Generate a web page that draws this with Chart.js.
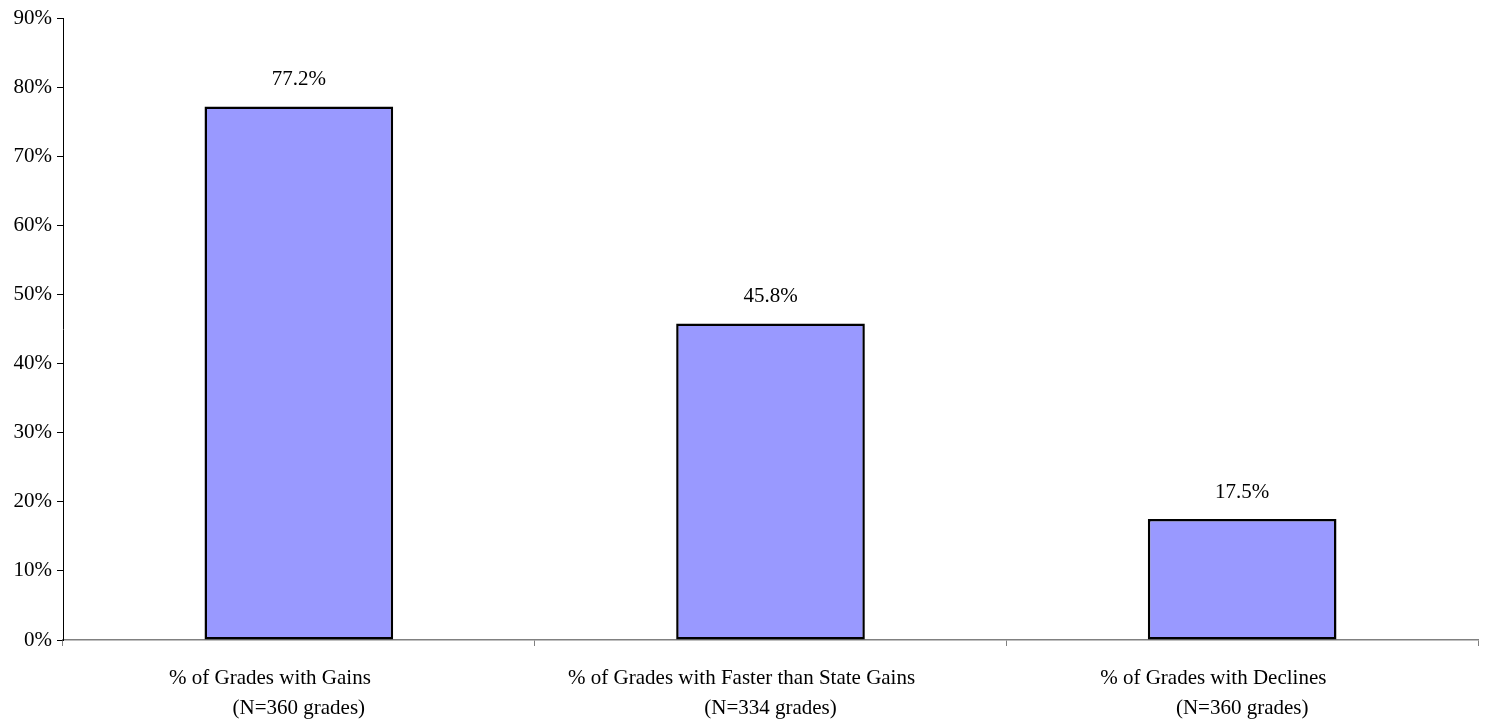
<!DOCTYPE html>
<html>
<head>
<meta charset="utf-8">
<script src="https://cdn.jsdelivr.net/npm/chart.js@4.4.1/dist/chart.umd.min.js"></script>
<style>
html,body{margin:0;padding:0;background:#fff;}
#wrap{width:1487px;height:719px;position:relative;}
</style>
</head>
<body>
<div id="wrap"><canvas id="c" width="1487" height="719"></canvas></div>
<script>
const categoryLines = [
  ["% of Grades with Gains", "(N=360 grades)"],
  ["% of Grades with Faster than State Gains", "(N=334 grades)"],
  ["% of Grades with Declines", "(N=360 grades)"]
];
const values = [77.2, 45.8, 17.5];
const valueLabels = ["77.2%", "45.8%", "17.5%"];
const yTicks = [0, 10, 20, 30, 40, 50, 60, 70, 80, 90];

const FONT = "'Liberation Serif', 'Times New Roman', serif";
const PAD = "           ";

const labelPlugin = {
  id: 'valLabels',
  afterDatasetsDraw(chart) {
    const ctx = chart.ctx;
    const meta = chart.getDatasetMeta(0);
    ctx.save();
    ctx.font = "21px " + FONT;
    ctx.fillStyle = "#000";
    ctx.textAlign = "center";
    ctx.textBaseline = "middle";
    meta.data.forEach((bar, i) => {
      ctx.fillText(valueLabels[i], bar.x, bar.y - 27);
    });
    ctx.restore();
  }
};

new Chart(document.getElementById('c'), {
  type: 'bar',
  data: {
    labels: categoryLines.map(l => [l[0] + PAD, l[1]]),
    datasets: [{
      data: values,
      backgroundColor: '#9999FF',
      borderColor: '#000000',
      borderWidth: 2.5,
      borderSkipped: false,
      barPercentage: 0.4,
      categoryPercentage: 1.0
    }]
  },
  options: {
    responsive: false,
    animation: false,
    layout: { padding: { top: 18, right: 9, bottom: 0, left: 0 } },
    plugins: { legend: { display: false }, tooltip: { enabled: false } },
    scales: {
      x: {
        offset: true,
        grid: { offset: true, drawOnChartArea: false, drawTicks: true, tickLength: 6, color: '#808080', lineWidth: 1 },
        border: { display: true, color: '#808080', width: 1.5 },
        ticks: { color: '#000', font: { family: FONT, size: 21, lineHeight: 1.43 }, padding: 17, maxRotation: 0, autoSkip: false },
        afterFit(s) { s.height = 79; }
      },
      y: {
        min: 0, max: 90,
        afterBuildTicks(s) { s.ticks = yTicks.map(v => ({ value: v })); },
        grid: { drawOnChartArea: false, drawTicks: true, tickLength: 6, color: '#000', lineWidth: 1 },
        border: { display: true, color: '#000', width: 1 },
        ticks: { color: '#000', font: { family: FONT, size: 21 }, padding: 5, callback: v => v + '%' },
        afterFit(s) { s.width = 63; }
      }
    }
  },
  plugins: [labelPlugin]
});
</script>
</body>
</html>
